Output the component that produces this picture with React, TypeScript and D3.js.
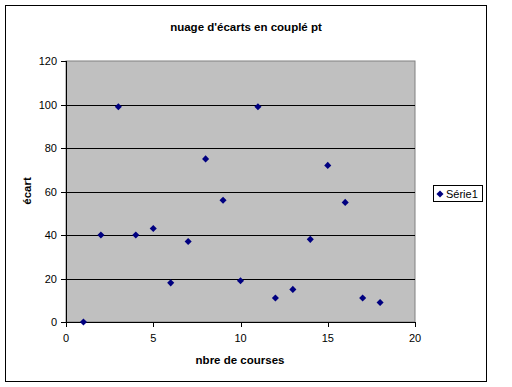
import React from 'react';
import * as d3 from 'd3';

const courses = [1, 2, 3, 4, 5, 6, 7, 8, 9, 10, 11, 12, 13, 14, 15, 16, 17, 18];
const ecarts = [0, 40, 99, 40, 43, 18, 37, 75, 56, 19, 99, 11, 15, 38, 72, 55, 11, 9];
const xTicks = [0, 5, 10, 15, 20];
const yTicks = [0, 20, 40, 60, 80, 100, 120];

export default function App() {
  const width = 512;
  const height = 387;
  const plot = { left: 66, right: 415, top: 61, bottom: 322 };

  const x = d3.scaleLinear().domain([0, 20]).range([plot.left, plot.right]);
  const y = d3.scaleLinear().domain([0, 120]).range([plot.bottom, plot.top]);
  const diamond = d3.symbol().type(d3.symbolDiamond2).size(32)() || '';
  const font = 'Arial, "Liberation Sans", sans-serif';

  return (
    <svg width={width} height={height} style={{ position: 'absolute', left: 0, top: 0, background: '#fff' }}>
      <rect x={5.5} y={5.5} width={481} height={376} fill="#fff" stroke="#000" strokeWidth={1} />
      <text x={246} y={31} textAnchor="middle" fontFamily={font} fontSize={11.5} fontWeight="bold">
        nuage d'écarts en couplé pt
      </text>

      <rect x={plot.left} y={plot.top} width={plot.right - plot.left} height={plot.bottom - plot.top} fill="#c0c0c0" stroke="#808080" />

      {yTicks.map(t => (
        <g key={t}>
          {t > 0 && t < 120 && (
            <line x1={plot.left} x2={plot.right} y1={Math.round(y(t)) + 0.5} y2={Math.round(y(t)) + 0.5} stroke="#000" />
          )}
          <line x1={plot.left - 5} x2={plot.left} y1={Math.round(y(t)) + 0.5} y2={Math.round(y(t)) + 0.5} stroke="#000" />
          <text x={plot.left - 9} y={y(t) + 4} textAnchor="end" fontFamily={font} fontSize={11}>{t}</text>
        </g>
      ))}
      <line x1={plot.left + 0.5} x2={plot.left + 0.5} y1={plot.top} y2={plot.bottom} stroke="#000" />
      <line x1={plot.left} x2={plot.right} y1={plot.bottom + 0.5} y2={plot.bottom + 0.5} stroke="#000" />

      {xTicks.map(t => (
        <g key={t}>
          <line x1={Math.round(x(t)) + 0.5} x2={Math.round(x(t)) + 0.5} y1={plot.bottom} y2={plot.bottom + 5} stroke="#000" />
          <text x={x(t)} y={plot.bottom + 20} textAnchor="middle" fontFamily={font} fontSize={11}>{t}</text>
        </g>
      ))}

      <text x={240} y={364} textAnchor="middle" fontFamily={font} fontSize={11.5} fontWeight="bold">nbre de courses</text>
      <text transform="translate(31,191) rotate(-90)" textAnchor="middle" fontFamily={font} fontSize={11.5} fontWeight="bold">écart</text>

      {courses.map((c, i) => (
        <path key={c} d={diamond} transform={`translate(${x(c)},${y(ecarts[i])})`} fill="#000080" />
      ))}

      <rect x={433.5} y={185.5} width={49} height={16} fill="#fff" stroke="#000" />
      <path d={diamond} transform="translate(440,194)" fill="#000080" />
      <text x={446} y={198} fontFamily={font} fontSize={11}>Série1</text>
    </svg>
  );
}
